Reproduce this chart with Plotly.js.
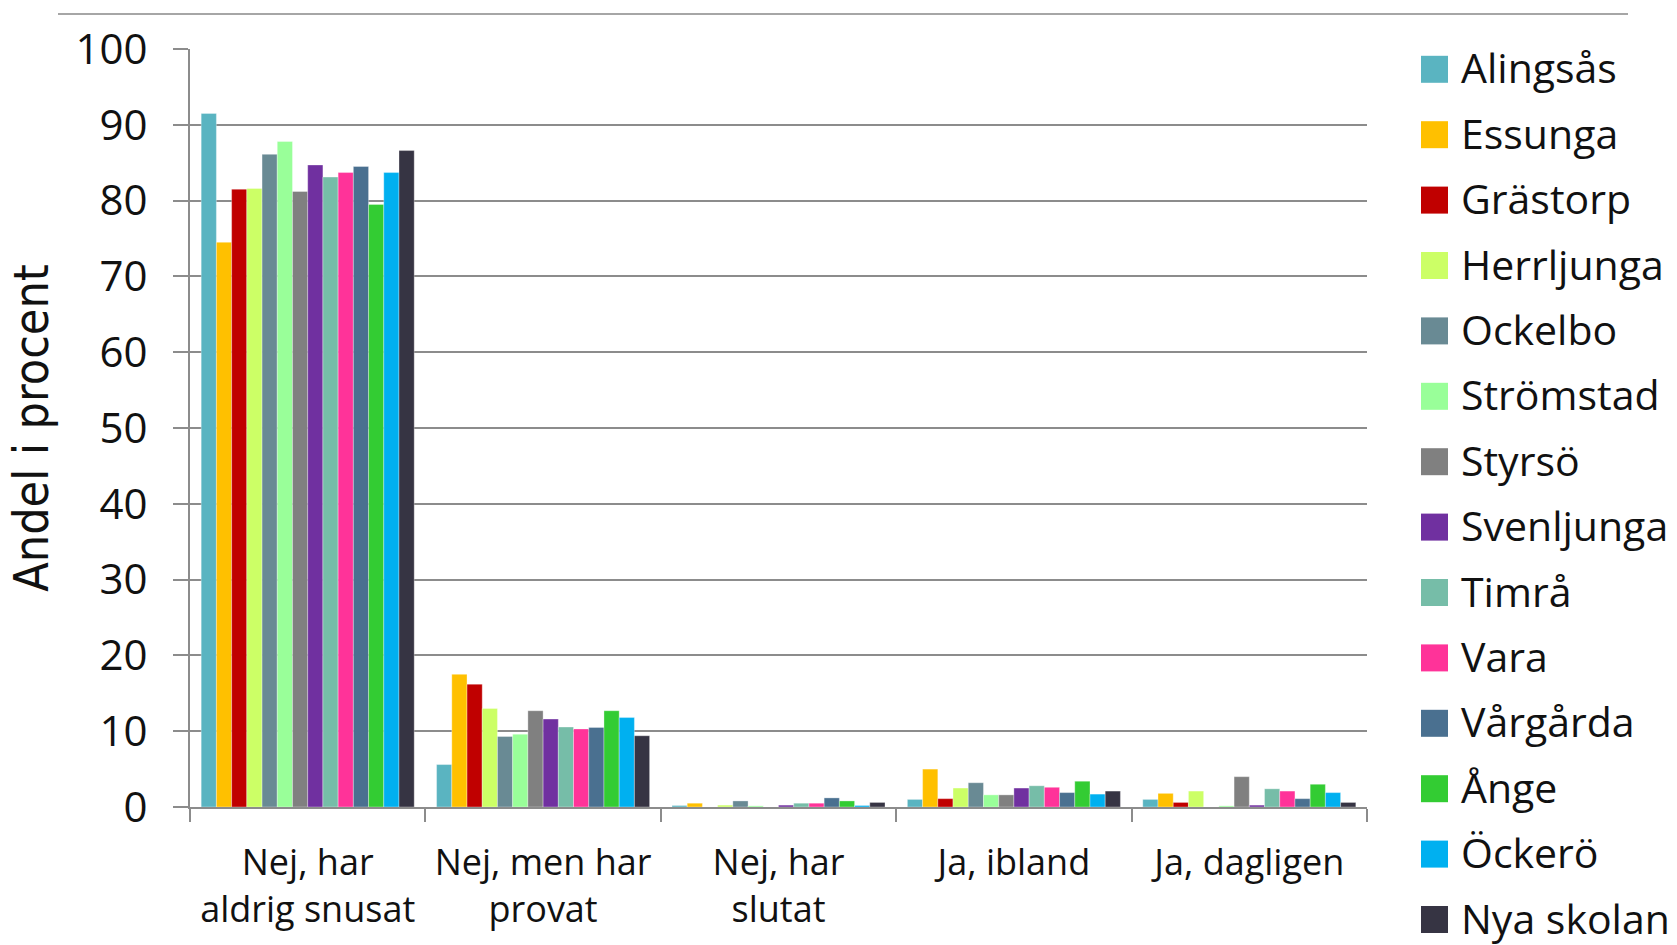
<!DOCTYPE html>
<html>
<head>
<meta charset="utf-8">
<script src="https://cdn.plot.ly/plotly-3.0.1.min.js"></script>
<style>html,body{margin:0;padding:0;background:#fff;}#chart{width:1677px;height:945px;}</style>
</head>
<body>
<div id="chart"></div>
<script>
const categories = ["Nej, har<br>aldrig snusat", "Nej, men har<br>provat", "Nej, har<br>slutat", "Ja, ibland", "Ja, dagligen"];
const seriesNames = ["Alingsås", "Essunga", "Grästorp", "Herrljunga", "Ockelbo", "Strömstad", "Styrsö", "Svenljunga", "Timrå", "Vara", "Vårgårda", "Ånge", "Öckerö", "Nya skolan"];
const seriesColors = ["#5AB4C1", "#FFC000", "#C00000", "#CCFF66", "#698A94", "#99FF99", "#808080", "#7030A0", "#76BDA8", "#FF3399", "#4A7090", "#33CC33", "#00B0F0", "#363443"];

const alingsas   = [91.5, 5.6, 0.2, 1.0, 1.0];
const essunga    = [74.5, 17.5, 0.5, 5.0, 1.8];
const grastorp   = [81.5, 16.2, 0.0, 1.1, 0.6];
const herrljunga = [81.6, 13.0, 0.25, 2.5, 2.1];
const ockelbo    = [86.1, 9.3, 0.8, 3.2, 0.0];
const stromstad  = [87.8, 9.6, 0.15, 1.6, 0.15];
const styrso     = [81.2, 12.7, 0.0, 1.6, 4.0];
const svenljunga = [84.7, 11.6, 0.25, 2.5, 0.25];
const timra      = [83.1, 10.55, 0.5, 2.8, 2.4];
const vara       = [83.7, 10.3, 0.5, 2.6, 2.1];
const vargarda   = [84.5, 10.5, 1.2, 1.9, 1.1];
const ange       = [79.5, 12.7, 0.8, 3.4, 3.0];
const ockero     = [83.7, 11.8, 0.2, 1.7, 1.9];
const nyaSkolan  = [86.6, 9.4, 0.6, 2.1, 0.6];

const seriesValues = [alingsas, essunga, grastorp, herrljunga, ockelbo, stromstad, styrso, svenljunga, timra, vara, vargarda, ange, ockero, nyaSkolan];

const yTitle = "Andel i procent";

const W = 1677, H = 945;
const mL = 190, mR = 310, mT = 49, mB = 138;
const pw = W - mL - mR, ph = H - mT - mB;
const px2x = p => (p - mL) / pw;
const py2y = p => (H - mB - p) / ph;

const traces = seriesNames.map((name, i) => ({
  type: "bar",
  name: name,
  x: categories,
  y: seriesValues[i],
  marker: {color: seriesColors[i], line: {width: 0.6, color: "rgba(255,255,255,0.55)"}},
  showlegend: false,
  hoverinfo: "name+y"
}));

const shapes = [{
  type: "line", xref: "paper", yref: "paper",
  x0: px2x(58), x1: px2x(1628), y0: py2y(14), y1: py2y(14),
  line: {color: "#a6a6a6", width: 2}
}];
const annotations = [];
const legTop = 69.3, legStep = 65.4, sw = 27;
seriesNames.forEach((name, i) => {
  const cy = legTop + i * legStep;
  shapes.push({
    type: "rect", xref: "paper", yref: "paper",
    x0: px2x(1421), x1: px2x(1421 + sw), y0: py2y(cy + sw / 2), y1: py2y(cy - sw / 2),
    fillcolor: seriesColors[i], line: {width: 0}
  });
  annotations.push({
    xref: "paper", yref: "paper", x: px2x(1459), y: py2y(cy - 2),
    xanchor: "left", yanchor: "middle", showarrow: false,
    text: name, font: {family: "Open Sans, sans-serif", size: 41, color: "#111"}
  });
});

const layout = {
  width: W, height: H,
  margin: {l: mL, r: mR, t: mT, b: mB, pad: 0},
  paper_bgcolor: "#fff", plot_bgcolor: "#fff",
  barmode: "group", bargap: 0.095, bargroupgap: 0,
  showlegend: false,
  font: {family: "Open Sans, sans-serif", color: "#111"},
  xaxis: {
    type: "category",
    tickson: "boundaries",
    ticks: "outside", ticklen: 13, tickwidth: 2, tickcolor: "#8c8c8c",
    showline: true, linecolor: "#8c8c8c", linewidth: 2,
    showgrid: false,
    tickfont: {family: "Open Sans, sans-serif", size: 36, color: "#111"},
    ticklabelstandoff: 23,
    automargin: false
  },
  yaxis: {
    range: [0, 100], dtick: 10, tick0: 0,
    ticks: "outside", ticklen: 15, tickwidth: 2, tickcolor: "#8c8c8c",
    showline: true, linecolor: "#8c8c8c", linewidth: 2,
    showgrid: true, gridcolor: "#8c8c8c", gridwidth: 2,
    zeroline: false,
    tickfont: {family: "Open Sans, sans-serif", size: 42, color: "#111"},
    ticklabelstandoff: 17,
    title: {text: yTitle, font: {family: "DejaVu Sans Condensed, DejaVu Sans, sans-serif", size: 48, color: "#111"}, standoff: 12},
    automargin: false
  },
  shapes: shapes,
  annotations: annotations
};

Plotly.newPlot("chart", traces, layout, {displayModeBar: false, staticPlot: true});
</script>
</body>
</html>
